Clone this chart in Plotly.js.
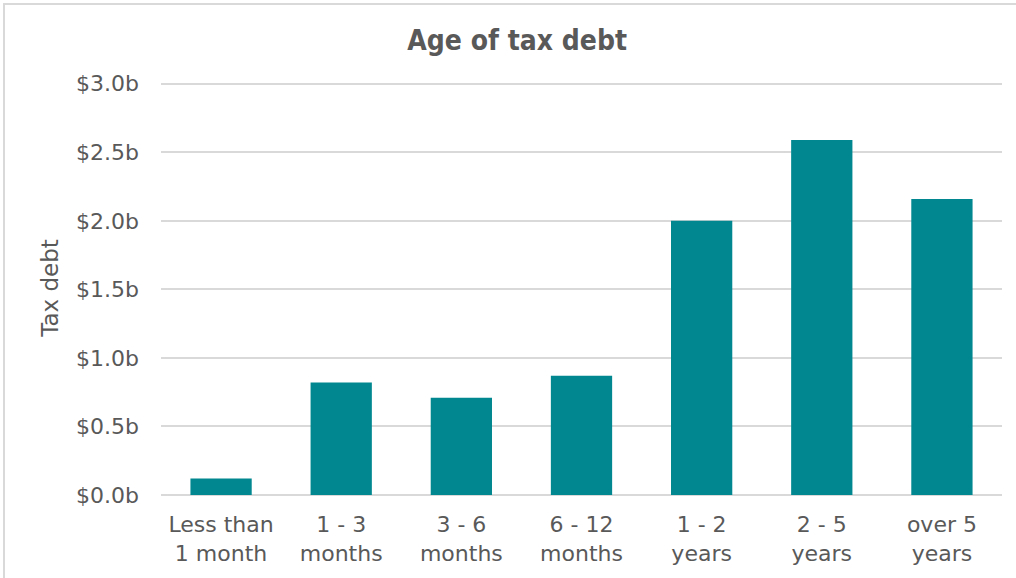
<!DOCTYPE html>
<html>
<head>
<meta charset="utf-8">
<script src="https://cdn.plot.ly/plotly-3.0.1.min.js"></script>
<style>
  html, body { margin: 0; padding: 0; background: #ffffff; }
  #wrap { position: relative; width: 1016px; height: 578px; overflow: hidden; }
  #chart { position: absolute; left: 0; top: 0; width: 1016px; height: 578px; }
  #frame { position: absolute; left: 3px; top: 3px; width: 1020px; height: 590px;
           border-left: 2px solid #d9d9d9; border-top: 2px solid #d9d9d9; pointer-events: none; }
</style>
</head>
<body>
<div id="wrap">
  <div id="chart"></div>
  <div id="frame"></div>
</div>
<script>
const categories = ["Less than<br>1 month", "1 - 3<br>months", "3 - 6<br>months", "6 - 12<br>months", "1 - 2<br>years", "2 - 5<br>years", "over 5<br>years"];
const taxDebt = [0.12, 0.82, 0.71, 0.87, 2.0, 2.59, 2.16];
const yTickValues = [0, 0.5, 1.0, 1.5, 2.0, 2.5, 3.0];
const yTickLabels = ["$0.0b", "$0.5b", "$1.0b", "$1.5b", "$2.0b", "$2.5b", "$3.0b"];

const textColor = "#595959";
const fontFam = "Verdana, 'DejaVu Sans', sans-serif";

const trace = {
  type: "bar",
  x: categories,
  y: taxDebt,
  marker: { color: "#00878F" },
  hoverinfo: "x+y"
};

const layout = {
  width: 1016,
  height: 578,
  margin: { l: 161, r: 14, t: 81, b: 83 },
  paper_bgcolor: "#ffffff",
  plot_bgcolor: "#ffffff",
  showlegend: false,
  bargap: 0.49,
  font: { family: fontFam, color: textColor, size: 22 },
  title: {
    text: "<b>Age of tax debt</b>",
    font: { family: "'DejaVu Sans Condensed', 'DejaVu Sans', sans-serif", size: 28, color: textColor },
    x: 0.509, xref: "container", xanchor: "center",
    y: 0.93, yref: "container", yanchor: "middle"
  },
  xaxis: {
    type: "category",
    showgrid: false,
    showline: false,
    zeroline: false,
    ticks: "",
    ticklabelstandoff: 14,
    tickfont: { family: fontFam, size: 22, color: textColor },
    fixedrange: true
  },
  yaxis: {
    range: [0, 3.02],
    tickvals: yTickValues,
    ticktext: yTickLabels,
    showgrid: true,
    gridcolor: "#d9d9d9",
    gridwidth: 2,
    zeroline: true,
    zerolinecolor: "#d9d9d9",
    zerolinewidth: 2,
    showline: false,
    ticks: "",
    ticklabelstandoff: 21,
    tickfont: { family: fontFam, size: 22, color: textColor },
    title: { text: "Tax debt", font: { family: fontFam, size: 23, color: textColor }, standoff: 10 },
    fixedrange: true
  }
};

Plotly.newPlot("chart", [trace], layout, { displayModeBar: false, staticPlot: true });
</script>
</body>
</html>
